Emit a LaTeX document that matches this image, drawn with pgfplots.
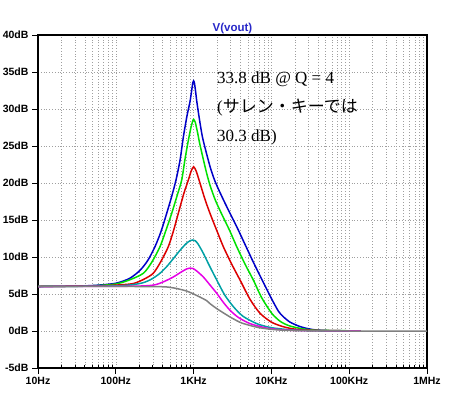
\documentclass[border=0pt]{standalone}
\usepackage{pgfplots}
\pgfplotsset{compat=1.18}
\usepackage{fontspec}
\setmainfont{Liberation Serif}
\setsansfont{Liberation Sans}
\newfontfamily\jp{Noto Sans CJK JP}
\definecolor{cblue}{RGB}{0,0,200}
\definecolor{cgreen}{RGB}{0,225,0}
\definecolor{cred}{RGB}{220,0,0}
\definecolor{ccyan}{RGB}{0,160,165}
\definecolor{cmag}{RGB}{230,0,230}
\definecolor{cgray}{RGB}{128,128,128}
\definecolor{ctitle}{RGB}{40,40,200}
\begin{document}
\begin{tikzpicture}
\useasboundingbox (-38pt,-26pt) rectangle (412pt,368pt);
\begin{axis}[at={(0,0)}, anchor=south west, scale only axis,
  width=389pt, height=333pt,
  xmode=log, xmin=10, xmax=1000000, ymin=-5, ymax=40,
  xtick={10,100,1000,10000,100000,1000000},
  xticklabels={10Hz,100Hz,1KHz,10KHz,100KHz,1MHz},
  minor xtick={20,30,40,50,60,70,80,90,200,300,400,500,600,700,800,900,2000,3000,4000,5000,6000,7000,8000,9000,20000,30000,40000,50000,60000,70000,80000,90000,200000,300000,400000,500000,600000,700000,800000,900000},
  ytick={-5,0,5,10,15,20,25,30,35,40},
  yticklabels={-5dB,0dB,5dB,10dB,15dB,20dB,25dB,30dB,35dB,40dB},
  tick label style={font=\sffamily\bfseries\fontsize{10.5}{12}\selectfont, black},
  axis line style={line width=1.6pt, black},
  grid=both,
  grid style={gray!75, dash pattern=on 0.8pt off 2pt, line width=0.6pt},
  minor grid style={gray!75, dash pattern=on 0.8pt off 2pt, line width=0.6pt},
  tick pos=left, tick align=outside,
  major tick length=6pt, minor tick length=-3pt,
  every tick/.style={black, line width=1pt},
  every axis plot/.append style={line width=1.5pt, mark=none, smooth, tension=0.45},
]
\addplot[cblue] coordinates {(10,6.02)(20,6.04)(40,6.1)(60,6.2)(100,6.45)(150,7.1)(205,8.2)(260,9.6)(319,11.4)(380,13.4)(451,15.9)(520,18.1)(594,20.4)(670,23.1)(738,26.2)(820,29.0)(899,31.0)(950,32.7)(975,33.5)(1000,33.8)(1025,33.5)(1060,32.4)(1100,31.0)(1189,28.6)(1300,26.2)(1473,23.9)(1650,22.0)(1850,20.45)(2100,19.1)(2450,17.6)(2938,15.9)(3600,14.05)(4581,11.7)(5800,9.4)(7504,7.0)(10000,4.4)(12270,2.7)(14000,2.0)(17340,1.2)(23330,0.6)(30000,0.3)(38200,0.13)(60000,0.05)(140000,0.01)};
\addplot[cgreen] coordinates {(10,6.02)(30,6.04)(60,6.15)(100,6.35)(150,6.9)(226,7.8)(290,9.3)(370,11.4)(451,13.9)(523,15.9)(610,18.2)(703,20.4)(775,23.2)(850,25.6)(920,27.4)(970,28.3)(1000,28.6)(1050,28.2)(1120,26.9)(1200,25.3)(1333,23.2)(1473,21.3)(1625,19.7)(1900,17.7)(2297,15.8)(2900,13.6)(3581,11.4)(4600,9.0)(5851,6.9)(7500,4.5)(10090,2.4)(13000,1.3)(17000,0.7)(25000,0.3)(40000,0.1)(140000,0.01)};
\addplot[cred] coordinates {(10,6.01)(60,6.1)(100,6.2)(166,6.4)(230,7.0)(303,7.8)(380,9.4)(473,11.4)(550,13.5)(636,15.9)(750,18.6)(856,20.4)(930,21.6)(1000,22.2)(1080,21.6)(1183,20.3)(1400,17.8)(1625,15.9)(2000,13.5)(2409,11.4)(3100,9.0)(3948,6.9)(5300,4.3)(7132,2.4)(10000,1.2)(14000,0.6)(20000,0.25)(35000,0.08)(140000,0.01)};
\addplot[ccyan] coordinates {(10,6.01)(100,6.1)(200,6.4)(275,6.9)(360,7.7)(451,8.7)(560,9.9)(669,10.9)(800,11.8)(900,12.2)(973,12.3)(1050,12.2)(1150,11.7)(1333,10.5)(1600,8.8)(1982,6.9)(2500,4.9)(3238,3.3)(4300,2.0)(6474,1.0)(10000,0.45)(20000,0.12)(50000,0.02)(140000,0.0)};
\addplot[cmag] coordinates {(10,6.01)(150,6.05)(303,6.2)(420,6.7)(548,7.3)(700,8.0)(820,8.4)(899,8.5)(980,8.45)(1100,8.1)(1333,7.3)(1600,6.3)(1982,5.1)(2400,3.9)(2938,2.8)(3800,1.8)(5309,1.0)(7500,0.55)(10000,0.3)(20000,0.08)(140000,0.0)};
\addplot[cgray] coordinates {(10,6.02)(100,6.02)(300,6.0)(451,5.95)(600,5.75)(815,5.4)(1000,5.0)(1200,4.6)(1473,4.1)(1625,3.7)(2000,3.0)(2938,1.9)(4000,1.15)(5309,0.75)(7000,0.45)(10000,0.22)(15000,0.1)(30000,0.03)(100000,0.0)(1000000,0.0)};
\end{axis}
\node[font=\sffamily\bfseries\fontsize{11.5}{13}\selectfont, text=ctitle, anchor=base] at (194.5pt,336pt) {V(vout)};
\begin{scope}[every node/.style={anchor=base west, inner sep=0pt, font=\fontsize{17}{20}\selectfont}]
\node at (179pt,284pt) {33.8 dB @ Q = 4};
\node at (179pt,255pt) {({\jp サレン・キーでは}};
\node at (179pt,226.3pt) {30.3 dB)};
\end{scope}
\end{tikzpicture}
\end{document}
